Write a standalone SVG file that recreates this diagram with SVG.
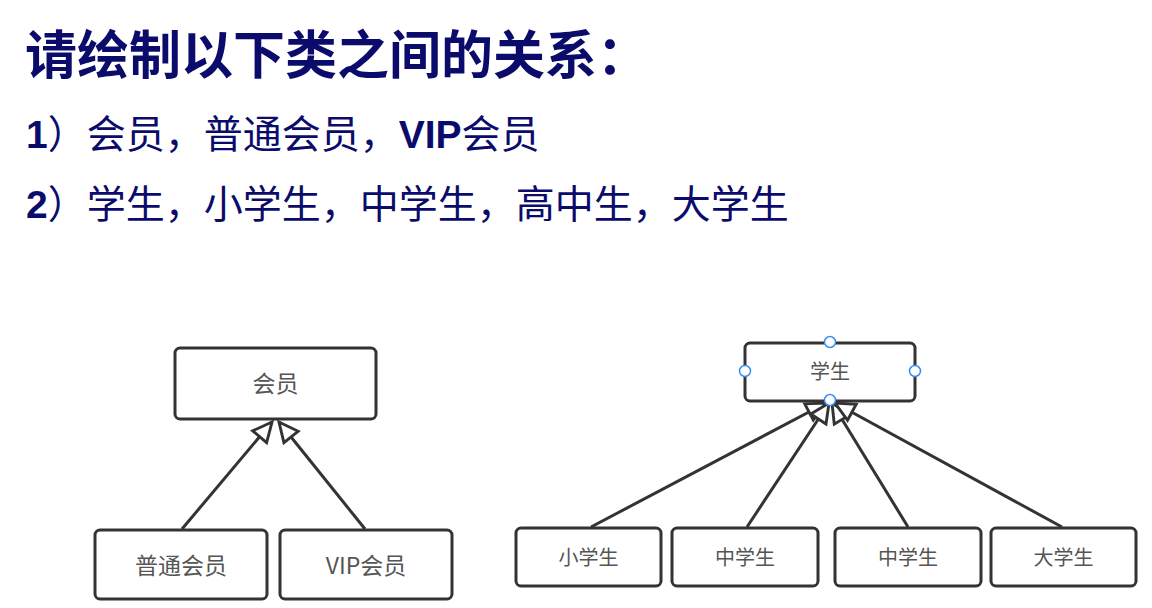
<svg xmlns="http://www.w3.org/2000/svg" width="1152" height="608" viewBox="0 0 1152 608">
<style>
.h{font-family:"Liberation Sans","Noto Sans CJK SC",sans-serif;fill:#0b0b6b}
.t{font-size:52px;font-weight:bold}
.s{font-size:39px}
.b{font-weight:bold}
.box{fill:#fff;stroke:#333;stroke-width:3}
.lbl{font-family:"Noto Sans CJK SC","Liberation Sans",sans-serif;fill:#555;text-anchor:middle}
.l23{font-size:23px}
.l20{font-size:20px}
.edge{stroke:#333;stroke-width:3;fill:none;marker-end:url(#tri)}
.hd{fill:#fff;stroke:#3a8ef0;stroke-width:1.5}
</style>
<defs>
<marker id="tri" markerUnits="userSpaceOnUse" markerWidth="26" markerHeight="24" refX="21" refY="10.5" orient="auto" viewBox="-2 -2 26 25">
<path d="M1,1 L21,10.5 L1,20 Z" fill="#fff" stroke="#333" stroke-width="3" stroke-linejoin="miter"/>
</marker>
</defs>
<rect width="1152" height="608" fill="#fff"/>
<g id="title">
<text class="h t" x="25" y="74">请绘制以下类之间的关系：</text>
<text class="h s" x="26" y="148"><tspan class="b">1</tspan>）会员，普通会员，<tspan class="b">VIP</tspan>会员</text>
<text class="h s" x="26" y="218"><tspan class="b">2</tspan>）学生，小学生，中学生，高中生，大学生</text>
</g>
<g id="connectors">
<line class="edge" x1="182" y1="529" x2="272" y2="422"/>
<line class="edge" x1="365" y1="529" x2="279" y2="422"/>
<line class="edge" x1="591" y1="527" x2="826" y2="403"/>
<line class="edge" x1="747" y1="527" x2="829" y2="403"/>
<line class="edge" x1="908" y1="527" x2="832" y2="403"/>
<line class="edge" x1="1062" y1="527" x2="835" y2="403"/>
</g>
<g id="member">
<rect class="box" x="175" y="348" width="201" height="71" rx="5"/>
<text class="lbl l23" x="275.5" y="392">会员</text>
</g>
<g id="normal-member">
<rect class="box" x="95" y="530" width="172" height="69" rx="5"/>
<text class="lbl l23" x="181" y="574">普通会员</text>
</g>
<g id="vip-member">
<rect class="box" x="280" y="530" width="172" height="69" rx="5"/>
<text class="lbl l23" x="366" y="574">VIP会员</text>
</g>
<g id="student">
<rect class="box" x="745" y="343" width="170" height="58" rx="5"/>
<text class="lbl l20" x="830" y="379">学生</text>
<circle class="hd" cx="830" cy="342" r="5.5"/>
<circle class="hd" cx="745" cy="371" r="5.5"/>
<circle class="hd" cx="915" cy="371" r="5.5"/>
<circle class="hd" cx="830" cy="400" r="5.5"/>
</g>
<g id="primary">
<rect class="box" x="516" y="528" width="145" height="58" rx="5"/>
<text class="lbl l20" x="588.5" y="565">小学生</text>
</g>
<g id="middle">
<rect class="box" x="672" y="528" width="146" height="58" rx="5"/>
<text class="lbl l20" x="745" y="565">中学生</text>
</g>
<g id="middle2">
<rect class="box" x="835" y="528" width="146" height="58" rx="5"/>
<text class="lbl l20" x="908" y="565">中学生</text>
</g>
<g id="college">
<rect class="box" x="991" y="528" width="145" height="58" rx="5"/>
<text class="lbl l20" x="1063.5" y="565">大学生</text>
</g>
</svg>
